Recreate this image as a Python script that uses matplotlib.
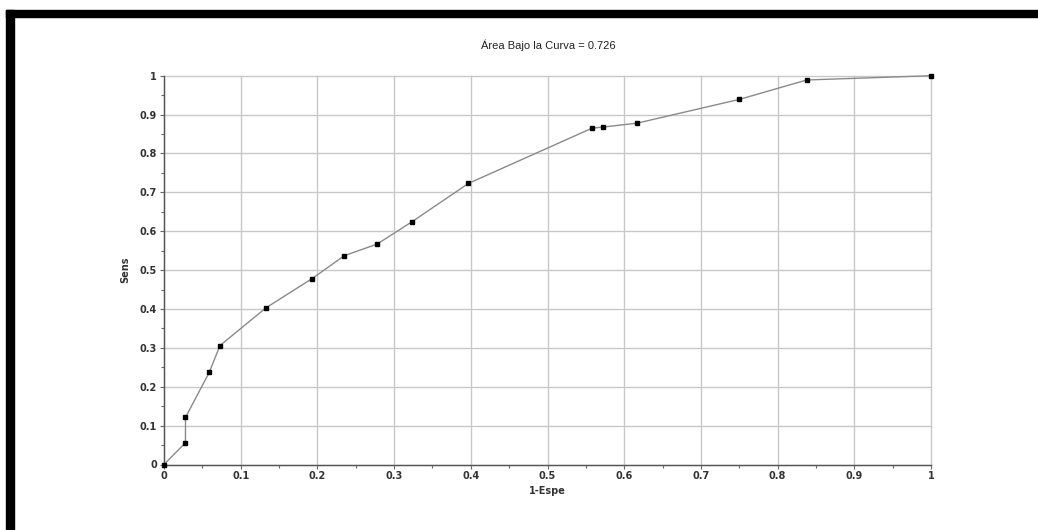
import matplotlib
matplotlib.use("Agg")
import matplotlib.pyplot as plt
from matplotlib.patches import Rectangle
from matplotlib.ticker import MultipleLocator

fpr = [0.0, 0.028, 0.028, 0.059, 0.073, 0.133, 0.193, 0.235, 0.278, 0.323,
       0.397, 0.558, 0.573, 0.617, 0.750, 0.838, 1.0]
tpr = [0.0, 0.056, 0.121, 0.237, 0.306, 0.403, 0.478, 0.537, 0.567, 0.624,
       0.723, 0.865, 0.868, 0.878, 0.939, 0.989, 1.0]
tick_vals = [0, 0.1, 0.2, 0.3, 0.4, 0.5, 0.6, 0.7, 0.8, 0.9, 1]
tick_labels = ["0", "0.1", "0.2", "0.3", "0.4", "0.5", "0.6", "0.7", "0.8", "0.9", "1"]
title = "Área Bajo la Curva = 0.726"
xlabel = "1-Espe"
ylabel = "Sens"

W, H = 1038, 530
fig = plt.figure(figsize=(W / 100, H / 100), dpi=100)
fig.patch.set_facecolor("white")

# black frame (top and left bars)
fig.patches.append(Rectangle((6 / W, 1 - 17 / H), 1 - 6 / W, 7 / H,
                             transform=fig.transFigure, color="black", zorder=10))
fig.patches.append(Rectangle((6 / W, 0), 8 / W, 1 - 10 / H,
                             transform=fig.transFigure, color="black", zorder=10))

ax = fig.add_axes([164 / W, 1 - 464.5 / H, (931 - 164) / W, (464.5 - 75.7) / H])
ax.set_xlim(0, 1)
ax.set_ylim(0, 1)

ax.plot(fpr, tpr, color="#8a8a8a", lw=1.0, zorder=3, clip_on=False)
ax.plot(fpr, tpr, ls="none", marker="s", ms=3.2, color="black", zorder=4, clip_on=False)

ax.set_xticks(tick_vals)
ax.set_xticklabels(tick_labels)
ax.set_yticks(tick_vals)
ax.set_yticklabels(tick_labels)
ax.xaxis.set_minor_locator(MultipleLocator(0.05))
ax.yaxis.set_minor_locator(MultipleLocator(0.05))
ax.tick_params(which="major", length=3, width=0.8, color="#666666",
               labelsize=7, labelcolor="#333333", pad=2)
ax.tick_params(which="minor", length=2, width=0.8, color="#666666")
for lab in ax.get_xticklabels() + ax.get_yticklabels():
    lab.set_fontweight("bold")

ax.grid(True, which="major", color="#c8c8c8", lw=1.0, clip_on=False)
ax.set_axisbelow(True)
for s in ["top", "right"]:
    ax.spines[s].set_visible(False)
for s in ["left", "bottom"]:
    ax.spines[s].set_color("#555555")
    ax.spines[s].set_linewidth(1.0)

fig.text(548 / W, 1 - 45 / H, title, ha="center", va="center", fontsize=8,
         color="#222222", family="Liberation Sans")
ax.set_xlabel(xlabel, fontsize=7, fontweight="bold", color="#333333", labelpad=3)
ax.set_ylabel(ylabel, fontsize=7, fontweight="bold", color="#333333", labelpad=7)

fig.savefig("out.png", dpi=100)
